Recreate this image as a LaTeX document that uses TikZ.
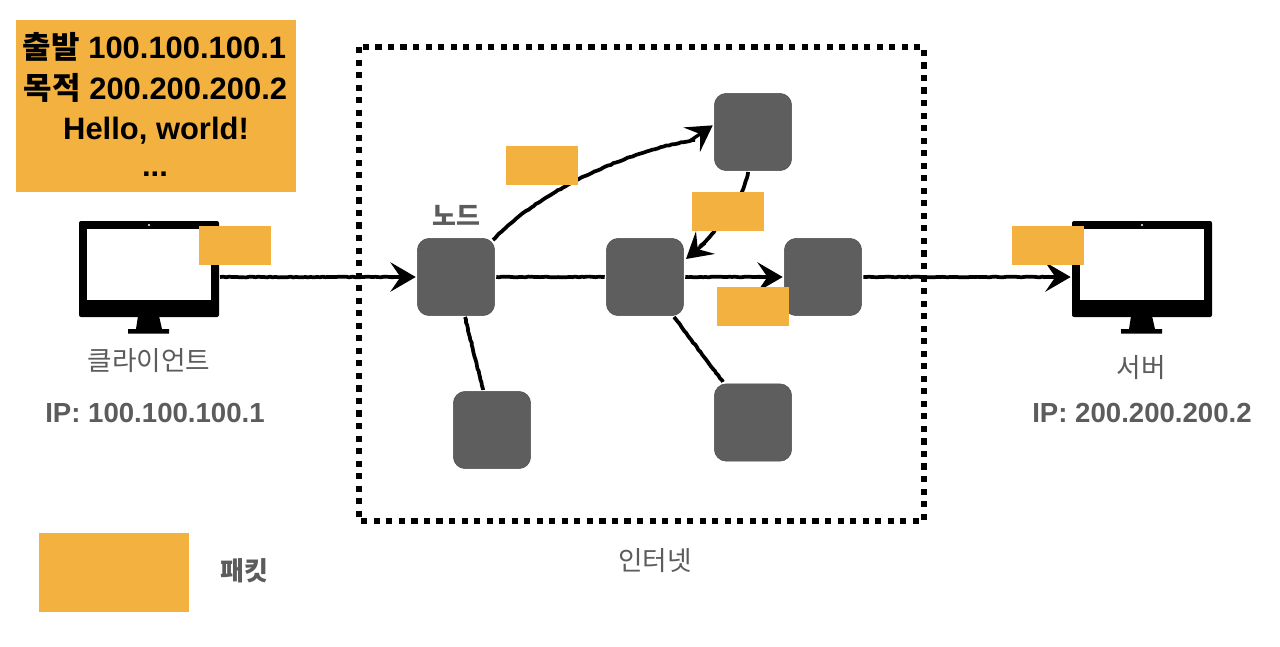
\documentclass[tikz,border=0pt]{standalone}
\usepackage{fontspec}
\setmainfont{Liberation Sans}
\newfontfamily\kr{Noto Sans CJK KR}
\usetikzlibrary{arrows.meta,decorations.pathmorphing,shapes.geometric}
\definecolor{pkt}{HTML}{F3B13F}
\definecolor{nodegray}{HTML}{5E5E5E}
\definecolor{txtgray}{HTML}{5C5C5C}
\tikzset{
  netnode/.style={draw=nodegray!85!black,line width=.4pt,fill=nodegray,rounded corners=9pt,minimum width=58pt,minimum height=58pt,inner sep=0pt},
  packet/.style={fill=pkt,inner sep=0pt,minimum width=54pt,minimum height=29.25pt},
  sk/.style={black,line width=2.8pt,decorate,decoration={random steps,segment length=2.2pt,amplitude=.3pt}},
  ska/.style={black,line width=2.5pt},
  tip/.style={-{Stealth[length=19pt,width=22pt,inset=7.5pt]}},
  lab/.style={text=txtgray,font=\kr\fontsize{20}{23}\selectfont,inner sep=0pt},
  iplab/.style={text=txtgray,font=\bfseries\fontsize{20.7}{24}\selectfont,inner sep=0pt},
  pktline/.style={text=black,font=\bfseries\fontsize{23.2}{27}\selectfont,inner sep=0pt},
}
\newcommand{\monitor}[2]{%
  \begin{scope}[xshift=#1*0.75pt]
    \fill[black,rounded corners=1.5pt] (79,221) rectangle (219,317);
    \fill[white] (87,229) rectangle (211,300);
    \fill[white] (149,225) circle (1.1);
    \fill[black] (138,316)--(159,316)--(162,329)--(169,329)--(169,333.5)--(128,333.5)--(128,329)--(136,329)--cycle;
    \coordinate (#2) at (149,277);
    \coordinate (#2W) at (79,277);
    \coordinate (#2E) at (219,277);
  \end{scope}}
\begin{document}
\begin{tikzpicture}[x=0.75pt,y=-0.75pt]
\useasboundingbox (0,0) rectangle (1280,646);
\fill[white] (0,0) rectangle (1280,646);
% internet frame
\draw[black,line width=4.4pt,dash pattern=on 4.6pt off 4.8pt] (359,47) rectangle (924,521);
% computers
\monitor{0}{cli}
\monitor{993}{srv}
% routers
\node[netnode] (n1) at (456,277) {};
\node[netnode] (n2) at (753,132) {};
\node[netnode] (n3) at (645,277) {};
\node[netnode] (n4) at (823,277) {};
\node[netnode] (n5) at (492,430) {};
\node[netnode] (n6) at (753,422.5) {};
% connectors
\draw[sk] (cliE)++(1,0) -- (395,277);
\draw[ska,tip] (390,277) -- ([xshift=-1pt]n1.west);
\draw[sk] ([xshift=1pt]n1.east) -- ([xshift=-1pt]n3.west);
\draw[sk] ([xshift=1pt]n3.east) -- (765,277);
\draw[ska,tip] (758,277) -- ([xshift=-1pt]n4.west);
\draw[sk] ([xshift=1pt]n4.east) -- (1050,277);
\draw[ska,tip] (1043,277) -- ([xshift=-1pt]srvW);
\draw[sk] (493,240) .. controls (545,185) and (640,148) .. (695,140);
\draw[ska,tip] (690,140.8) -- ([xshift=-1pt,yshift=5pt]n2.west);
\draw[sk] (748,172) .. controls (745,190) and (735,210) .. (700,247);
\draw[ska,tip] (705,243) -- (686,259);
\draw[sk] (465,317) -- (483,390);
\draw[sk] (674,317) -- (723,382);
% packets
\node[packet] (p1) at (235,245.5) {};
\node[packet] (p2) at (542,165.5) {};
\node[packet] (p3) at (728,211.5) {};
\node[packet] (p4) at (753,306.5) {};
\node[packet] (p5) at (1048,245.5) {};
\node[packet,minimum width=112.5pt,minimum height=59.25pt] (legend) at (114,572.5) {};
\node[packet,minimum width=210pt,minimum height=129pt] (big) at (156,106) {};
% big packet text
\node[pktline] (b1) at (154.5,47) {{\kr\bfseries 출발} 100.100.100.1};
\node[pktline] (b2) at (155.5,88) {{\kr\bfseries 목적} 200.200.200.2};
\node[pktline] (b3) at (156,131) {Hello, world!};
\node[pktline] (b4) at (155,174) {...};
% labels
\node[lab] (t1) at (149,361) {클라이언트};
\node[iplab] (t2) at (155,413) {IP: 100.100.100.1};
\node[lab,font=\kr\bfseries\fontsize{19.5}{22}\selectfont] (t3) at (456,215) {노드};
\node[lab] (t4) at (1141,368) {서버};
\node[iplab] (t5) at (1142,413) {IP: 200.200.200.2};
\node[lab] (t6) at (655,561) {인터넷};
\node[lab,font=\kr\bfseries\fontsize{19.5}{22}\selectfont] (t7) at (244,571) {패킷};
\end{tikzpicture}
\end{document}
